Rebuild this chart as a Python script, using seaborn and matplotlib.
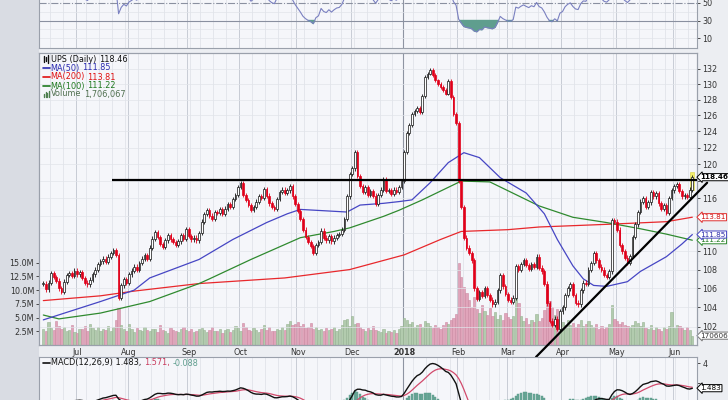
import numpy as np
import pandas as pd
import matplotlib
matplotlib.use("Agg")
import matplotlib.pyplot as plt
import seaborn as sns
from matplotlib.patches import Rectangle
from matplotlib.lines import Line2D
from matplotlib.transforms import blended_transform_factory
from matplotlib.ticker import NullLocator, FixedLocator, FixedFormatter

sns.set_theme(style="white")
plt.rcParams['font.family'] = ['DejaVu Sans']

# ---------------- data ----------------
start_date = "2017-06-14"
end_date = "2018-06-12"
holidays = ["2017-07-04", "2017-09-04", "2017-11-23", "2017-12-25", "2018-01-01",
            "2018-01-15", "2018-02-19", "2018-03-30", "2018-05-28"]

closes = [
    106.5, 105.9, 106.6, 107.6, 107.2, 106.8, 106.0, 105.6, 106.7, 107.4,
    107.6, 107.3, 107.9, 107.5, 107.7, 107.1, 106.6, 106.4, 106.9, 107.5,
    108.0, 108.6, 108.9, 109.2, 108.8, 109.4, 109.8, 110.1, 109.6, 105.0,
    106.3, 107.0, 106.6, 107.5, 107.9, 108.3, 108.0, 108.7, 109.2, 109.6,
    109.2, 110.4, 111.4, 112.1, 111.6, 110.8, 110.5, 111.2, 111.8, 111.3,
    111.0, 110.7, 111.1, 111.8, 111.4, 112.5, 111.7, 111.3, 111.5, 111.2,
    112.0, 113.3, 114.2, 114.6, 114.0, 113.6, 114.4, 114.3, 114.7, 114.2,
    114.8, 115.3, 115.0, 115.9, 116.4, 117.3, 117.8, 116.4, 115.8, 115.2,
    114.6, 115.0, 115.6, 116.2, 116.0, 117.1, 116.3, 115.4, 115.0, 114.8,
    115.9, 116.7, 117.0, 116.6, 116.9, 117.4, 116.2, 115.3, 114.5, 113.6,
    112.4, 111.6, 111.0, 110.6, 109.8, 110.7, 111.0, 112.3, 111.5, 111.2,
    111.7, 111.1, 111.5, 111.8, 111.9, 112.4, 113.6, 116.2, 118.8, 119.5,
    121.5, 118.6, 117.4, 116.7, 117.3, 116.4, 116.8, 116.3, 115.3, 116.4,
    117.0, 118.2, 116.8, 116.9, 116.5, 117.0, 116.7, 117.3, 118.0, 121.5,
    123.8, 124.8, 126.2, 126.6, 127.0, 126.5, 128.5, 131.0, 131.4, 131.9,
    131.2, 130.5, 130.0, 129.6, 129.3, 128.8, 130.4, 128.3, 126.2, 125.0,
    118.0, 115.0, 111.5, 110.4, 109.8, 109.0, 106.0, 104.9, 105.6, 105.2,
    106.0, 105.3, 104.8, 104.3, 104.6, 105.8, 107.4, 106.2, 105.4, 104.8,
    104.6, 105.0, 108.4, 108.0, 108.6, 109.0, 108.5, 108.1, 108.6, 108.3,
    109.4, 108.2, 107.8, 106.5, 104.4, 102.6, 102.2, 102.8, 101.8, 103.6,
    104.0, 105.3, 106.0, 106.4, 105.3, 104.5, 104.3, 105.8, 106.6, 106.5,
    108.0, 108.7, 109.8, 109.0, 108.3, 108.0, 107.4, 107.2, 107.8, 113.5,
    113.3, 112.4, 110.7, 110.0, 109.3, 108.7, 109.5, 111.6, 113.0, 114.4,
    115.6, 116.0, 115.0, 115.5, 116.7, 116.2, 116.6, 115.4, 114.8, 115.2,
    114.3, 116.0, 116.9, 117.4, 117.6, 116.8, 116.2, 116.4, 116.1, 117.0,
    118.46,
]

volumes_m = [
    3.0, 2.6, 4.2, 3.1, 2.7, 4.4, 3.5, 2.9, 3.3, 2.5,
    2.8, 3.6, 2.4, 2.2, 3.0, 2.9, 3.4, 2.6, 3.8, 3.1,
    2.7, 3.3, 2.5, 3.0, 2.8, 3.4, 2.6, 3.2, 4.6, 6.7,
    3.6, 3.0, 2.6, 3.8, 2.9, 2.4, 3.1, 2.7, 2.5, 3.3,
    2.8, 2.6, 3.0, 2.9, 2.4, 3.6, 2.7, 2.5, 2.2, 3.1,
    2.8, 2.6, 2.4, 2.9, 3.2, 2.7, 2.5, 3.0, 2.3, 2.6,
    2.9, 3.1, 2.7, 2.4, 2.8, 3.3, 2.6, 2.5, 2.9, 2.2,
    2.7, 3.0, 2.4, 2.8, 3.5, 3.1, 2.6, 4.0, 3.2, 2.8,
    2.5, 3.1, 2.7, 2.4, 2.9, 3.6, 2.8, 3.3, 2.6, 2.5,
    3.0, 2.7, 3.2, 2.8, 3.9, 4.4, 3.6, 3.8, 4.2, 3.5,
    3.9, 3.1, 3.3, 4.0, 2.9, 3.2, 2.8, 3.0, 2.6, 3.1,
    2.7, 2.9, 3.3, 2.5, 3.0, 3.6, 4.5, 4.8, 3.4, 5.2,
    3.9, 4.0, 3.2, 2.9, 2.6, 3.1, 2.8, 3.4, 2.7, 2.5,
    2.3, 2.9, 2.1, 2.6, 2.4, 2.8, 2.2, 3.0, 3.4, 5.0,
    4.6, 3.8, 4.1, 3.3, 3.6, 3.9, 3.2, 4.4, 4.0, 3.5,
    3.1, 3.7, 3.3, 3.0, 3.6, 4.2, 3.8, 4.5, 4.9, 5.6,
    14.9, 12.4, 10.5, 9.5, 8.2, 7.0, 8.7, 6.5, 5.8, 7.2,
    6.1, 5.5, 6.8, 5.2, 6.0, 4.8, 5.4, 4.6, 5.9, 5.1,
    4.7, 5.3, 8.6, 7.6, 5.2, 4.4, 4.9, 3.9, 4.5, 4.1,
    5.6, 4.3, 5.0, 6.3, 10.5, 8.0, 6.9, 5.4, 6.5, 4.8,
    4.2, 3.7, 4.5, 3.6, 4.0, 3.3, 3.9, 4.6, 3.5, 3.8,
    4.4, 3.6, 3.2, 3.9, 3.0, 3.4, 2.9, 3.3, 3.8, 7.3,
    4.8, 4.3, 3.9, 4.2, 3.6, 3.4, 3.2, 3.7, 4.4, 4.0,
    3.5, 4.2, 3.1, 2.9, 3.6, 2.8, 3.3, 3.0, 2.6, 3.2,
    2.9, 3.5, 6.0, 3.1, 3.7, 3.4, 3.1, 2.8, 3.3, 2.7,
    1.7,
]

ma50_idx = [0, 22, 35, 41, 60, 73, 86, 94, 99, 105, 117, 122, 131, 137, 142, 149, 156,
            162, 168, 176, 186, 193, 198, 204, 208, 212, 217, 225, 230, 240, 246, 250]
ma50_val = [102.7, 104.6, 105.8, 107.1, 109.1, 111.3, 113.2, 114.2, 114.7, 114.6, 114.4,
            115.2, 115.4, 115.6, 115.8, 117.8, 120.2, 121.4, 120.8, 118.4, 116.6, 114.2,
            111.3, 108.4, 107.0, 106.3, 106.2, 106.7, 107.8, 109.4, 110.8, 111.85]
ma200_idx = [0, 22, 35, 60, 93, 118, 139, 153, 161, 179, 191, 217, 240, 250]
ma200_val = [104.7, 105.2, 105.7, 106.5, 107.1, 108.0, 109.6, 111.3, 112.2, 112.4, 112.7,
             113.0, 113.3, 113.81]
ma100_idx = [0, 6, 22, 41, 60, 64, 80, 99, 112, 118, 131, 137, 146, 161, 172, 191, 204,
             217, 230, 240, 250]
ma100_val = [103.2, 102.8, 103.4, 104.6, 106.5, 107.0, 109.1, 111.5, 112.2, 112.6, 113.9,
             114.6, 115.8, 118.0, 117.9, 115.1, 113.8, 113.2, 112.5, 111.9, 111.22]

resistance_price = 118.1
resistance_start_idx = 26.5
trend_idx = [189.8, 255.7]
trend_price = [98.96, 117.8]

price_ticks = list(range(102, 133, 2))
hidden_price_labels = [112, 114, 118]
vol_ticks = [2.5, 5.0, 7.5, 10.0, 12.5, 15.0]
vol_tick_labels = ["2.5M", "5.0M", "7.5M", "10.0M", "12.5M", "15.0M"]
month_labels = ["Jul", "Aug", "Sep", "Oct", "Nov", "Dec", "2018", "Feb", "Mar", "Apr", "May", "Jun"]

# ---------------- derived ----------------
dates = pd.bdate_range(start_date, end_date)
dates = dates[~dates.isin(pd.to_datetime(holidays))]
n = min(len(dates), len(closes))
dates = dates[:n]
x = np.arange(n)
c = np.array(closes[:n])
o = np.r_[c[0], c[:-1]]
vol = np.array(volumes_m[:n])
up = c >= o
wick = 0.25
hi = np.maximum(o, c) + wick
lo = np.minimum(o, c) - wick

# RSI(14), Wilder smoothing seeded with a 14-day simple average
d = np.diff(c)
g = np.clip(d, 0, None)
l = np.clip(-d, 0, None)
P = 14
rsi_x, rsi_v = [], []
ag, al = g[:P].mean(), l[:P].mean()
for k in range(P, len(d)):
    if k > P:
        ag = (ag * (P - 1) + g[k]) / P
        al = (al * (P - 1) + l[k]) / P
    rsi_x.append(k + 1)
    rsi_v.append(100 - 100 / (1 + ag / al) if al > 0 else 100)
rsi_x = np.array(rsi_x)
rsi_v = np.array(rsi_v)

cs = pd.Series(c)
macd = (cs.ewm(span=12, adjust=False).mean() - cs.ewm(span=26, adjust=False).mean()).values
signal = pd.Series(macd).ewm(span=9, adjust=False).mean().values
hist = macd - signal

month_start = [i for i in range(1, n) if dates[i].month != dates[i-1].month]
week_start = [i for i in range(1, n) if dates[i].weekday() < dates[i-1].weekday()]
year_start = [i for i in range(1, n) if dates[i].year != dates[i-1].year]

# ---------------- figure ----------------
W, H = 728, 400
fig = plt.figure(figsize=(W/100, H/100), dpi=100)
fig.set_facecolor('#eceef2')

def rect(x0, y0, x1, y1):
    return [x0/W, 1 - y1/H, (x1-x0)/W, (y1-y0)/H]

fig.patches.append(Rectangle((0, 0), 39/W, 1, transform=fig.transFigure,
                             fc='#d9dce3', ec='none', zorder=-5))

XL = (-1.66, 251.8)
panel_bg = '#f5f6fa'
spine_c = '#9aa0ab'

ax_r = fig.add_axes(rect(39, -40, 697, 48))
ax_v = fig.add_axes(rect(39, 53, 697, 345))
ax_p = ax_v.twinx()
ax_m = fig.add_axes(rect(39, 357, 697, 440))

for a in (ax_r, ax_v, ax_m):
    a.set_facecolor(panel_bg)
    a.set_xlim(*XL)
    for s in a.spines.values():
        s.set_color(spine_c)
        s.set_linewidth(0.8)
    for i in week_start:
        a.axvline(i - 0.5, color='#dde0e7', lw=0.5, zorder=0)
    for i in month_start:
        a.axvline(i - 0.5, color='#c8ccd5', lw=0.7, zorder=0)
    for i in year_start:
        a.axvline(i - 0.5, color='#8e94a2', lw=0.8, zorder=0)
ax_p.set_xlim(*XL)
for s in ax_p.spines.values():
    s.set_color(spine_c)
    s.set_linewidth(0.8)

# ---- volume ----
vcol = np.where(up, '#b2cbae', '#e0a4ba')
vedge = np.where(up, '#96b292', '#cc8aa2')
ax_v.bar(x, vol, width=0.9, color=vcol, edgecolor=vedge, linewidth=0.4, zorder=1)
ax_v.set_ylim(0, 292/5.5)
ax_v.yaxis.set_major_locator(FixedLocator(vol_ticks))
ax_v.yaxis.set_major_formatter(FixedFormatter(vol_tick_labels))
ax_v.tick_params(axis='y', left=True, labelleft=True, labelsize=5.8, pad=1, length=2.5,
                 colors='#333333', width=0.6)
ax_v.set_xticks(month_start)
ax_v.set_xticklabels(month_labels[:len(month_start)])
ax_v.tick_params(axis='x', length=0, pad=2.5, labelsize=5.8, colors='#333333')
for lab in ax_v.get_xticklabels():
    if lab.get_text() == '2018':
        lab.set_fontweight('bold')

# ---- price ----
ax_p.set_yscale('log')
ax_p.set_ylim(100.15, 134.13)
ax_p.yaxis.set_major_locator(FixedLocator(price_ticks))
ax_p.yaxis.set_major_formatter(FixedFormatter(
    ['' if t in hidden_price_labels else str(t) for t in price_ticks]))
ax_p.yaxis.set_minor_locator(NullLocator())
ax_p.tick_params(axis='y', right=True, labelright=True, labelsize=5.8, pad=1.5, length=2.5,
                 colors='#333333', width=0.6)
ax_p.tick_params(axis='x', bottom=False, labelbottom=False)
for t in price_ticks:
    ax_p.axhline(t, color='#e1e4ea', lw=0.5, zorder=0)

# yellow highlight of last candle
ax_p.add_patch(Rectangle((n - 1 - 0.75, 116.9), 1.5, 2.2, fc='#f3ee6a', ec='#d8d040',
                         lw=0.4, zorder=2))

# MAs
sns.lineplot(x=ma200_idx, y=ma200_val, ax=ax_p, color='#e8282c', lw=0.9, zorder=3)
sns.lineplot(x=ma100_idx, y=ma100_val, ax=ax_p, color='#2f8a2f', lw=0.9, zorder=3)
sns.lineplot(x=ma50_idx, y=ma50_val, ax=ax_p, color='#4646c4', lw=0.9, zorder=3)

# candles
ccol = np.where(up, '#111111', '#e0001a')
ax_p.vlines(x, lo, hi, colors=ccol, lw=0.6, zorder=4)
body_h = np.maximum(np.abs(c - o), 0.06)
ax_p.bar(x, body_h, bottom=np.minimum(o, c), width=0.66,
         color=np.where(up, '#ffffff', '#e0001a'), edgecolor=ccol, linewidth=0.5, zorder=5)

# resistance and trend lines
ax_p.hlines(resistance_price, resistance_start_idx, XL[1], color='black', lw=1.6, zorder=6)
ax_p.plot(trend_idx, trend_price, color='black', lw=1.6, zorder=6, clip_on=False)
ax_p.set_ylabel('')
ax_v.set_ylabel('')

# right value boxes
BX = 1.0055
FS = 5.2
tr = blended_transform_factory(ax_p.transAxes, ax_p.transData)
def vbox(y, s, color, ec, weight='normal'):
    ax_p.text(BX, y, s, transform=tr, fontsize=FS, color=color, fontweight=weight,
              va='center', ha='left', clip_on=False, zorder=20,
              bbox=dict(boxstyle='larrow,pad=0.08', fc='white', ec=ec, lw=0.7))
vbox(113.81, '113.81', '#d01010', '#e03030')
vbox(111.22, '111.22', '#1f7a1f', '#2f8a2f')
vbox(111.85, '111.85', '#2a2aa8', '#4646c4')
vbox(118.46, '118.46', '#000000', '#000000', 'bold')
trv = blended_transform_factory(ax_v.transAxes, ax_v.transData)
ax_v.text(BX, vol[-1], '1706067', transform=trv, fontsize=FS, color='#333333',
          va='center', ha='left', clip_on=False, zorder=20,
          bbox=dict(boxstyle='larrow,pad=0.08', fc='white', ec='#777777', lw=0.7))

# ---- RSI ----
ax_r.set_ylim(-0.9, 98)
for lv in (10, 20, 40):
    ax_r.axhline(lv, color='#e1e4ea', lw=0.5, zorder=0)
ax_r.axhline(50, color='#8a90a0', lw=0.8, ls='-.', zorder=1)
ax_r.axhline(30, color='#8a90a0', lw=0.8, zorder=1)
ax_r.fill_between(rsi_x, rsi_v, 30, where=rsi_v < 30, interpolate=True, color='#5f9e8e', zorder=2)
sns.lineplot(x=rsi_x, y=rsi_v, ax=ax_r, color='#7a80c0', lw=0.8, zorder=3)
ax_r.yaxis.tick_right()
ax_r.set_yticks([10, 30, 50])
ax_r.set_yticklabels(['10', '30', '50'])
ax_r.tick_params(axis='y', labelsize=5.8, pad=1.5, length=2.5, colors='#333333', width=0.6)
ax_r.tick_params(axis='x', bottom=False, labelbottom=False)
ax_r.set_ylabel('')

# ---- MACD ----
ax_m.set_ylim(-3.7, 4.6)
ax_m.bar(x, hist, width=0.8, color='#6aa898', edgecolor='#5a9888', linewidth=0.3, zorder=1)
sns.lineplot(x=x, y=signal, ax=ax_m, color='#d24a6c', lw=0.9, zorder=2)
sns.lineplot(x=x, y=macd, ax=ax_m, color='#111111', lw=1.0, zorder=3)
ax_m.yaxis.tick_right()
ax_m.set_yticks([2, 4])
ax_m.set_yticklabels(['', '4'])
ax_m.tick_params(axis='y', labelsize=5.8, pad=1.5, length=2.5, colors='#333333', width=0.6)
ax_m.tick_params(axis='x', bottom=False, labelbottom=False)
ax_m.set_ylabel('')
trm = blended_transform_factory(ax_m.transAxes, ax_m.transData)
ax_m.text(BX, 1.483, '1.483', transform=trm,
          fontsize=FS, color='#000000', va='center', ha='left', clip_on=False, zorder=20,
          bbox=dict(boxstyle='larrow,pad=0.08', fc='white', ec='#000000', lw=0.7))

# ---- legend texts ----
renderer = fig.canvas.get_renderer()
def chain(x_px, y_px, parts, size=5.9):
    xx = x_px
    for s, col in parts:
        t = fig.text(xx/W, 1 - y_px/H, s, color=col, fontsize=size, va='center', ha='left')
        xx += t.get_window_extent(renderer=renderer).width + 2.5

for k, (h0, h1) in enumerate([(56, 62), (57, 61), (55, 63)]):
    fig.add_artist(Line2D([(44 + k*2)/W]*2, [1 - h1/H, 1 - h0/H], color='#111111', lw=1.0))
chain(51, 59, [('UPS (Daily)', '#111111'), ('118.46', '#111111')])
for yy, lab, val, col in [(68, 'MA(50)', '111.85', '#2a2ab0'), (77, 'MA(200)', '113.81', '#e01010'),
                          (86, 'MA(100)', '111.22', '#1f7a1f')]:
    fig.add_artist(Line2D([43/W, 50/W], [1 - yy/H]*2, color=col, lw=1.2))
    chain(50.5, yy, [(lab, col), (val, col)])
for k, hh in enumerate([3, 5, 4, 6]):
    fig.add_artist(Line2D([(44 + k*1.6)/W]*2, [1 - 97/H, 1 - (97 - hh)/H], color='#4f7f4f', lw=1.0))
chain(51, 94, [('Volume', '#4f6f4f'), ('1,706,067', '#4f6f4f')])

fig.add_artist(Line2D([43/W, 50/W], [1 - 363/H]*2, color='#111111', lw=1.2))
chain(51, 363, [('MACD(12,26,9) 1.483,', '#111111'), ('1.571,', '#c83a5c'), ('-0.088', '#5f9e8e')])

fig.savefig('out.png', dpi=100, facecolor=fig.get_facecolor())
